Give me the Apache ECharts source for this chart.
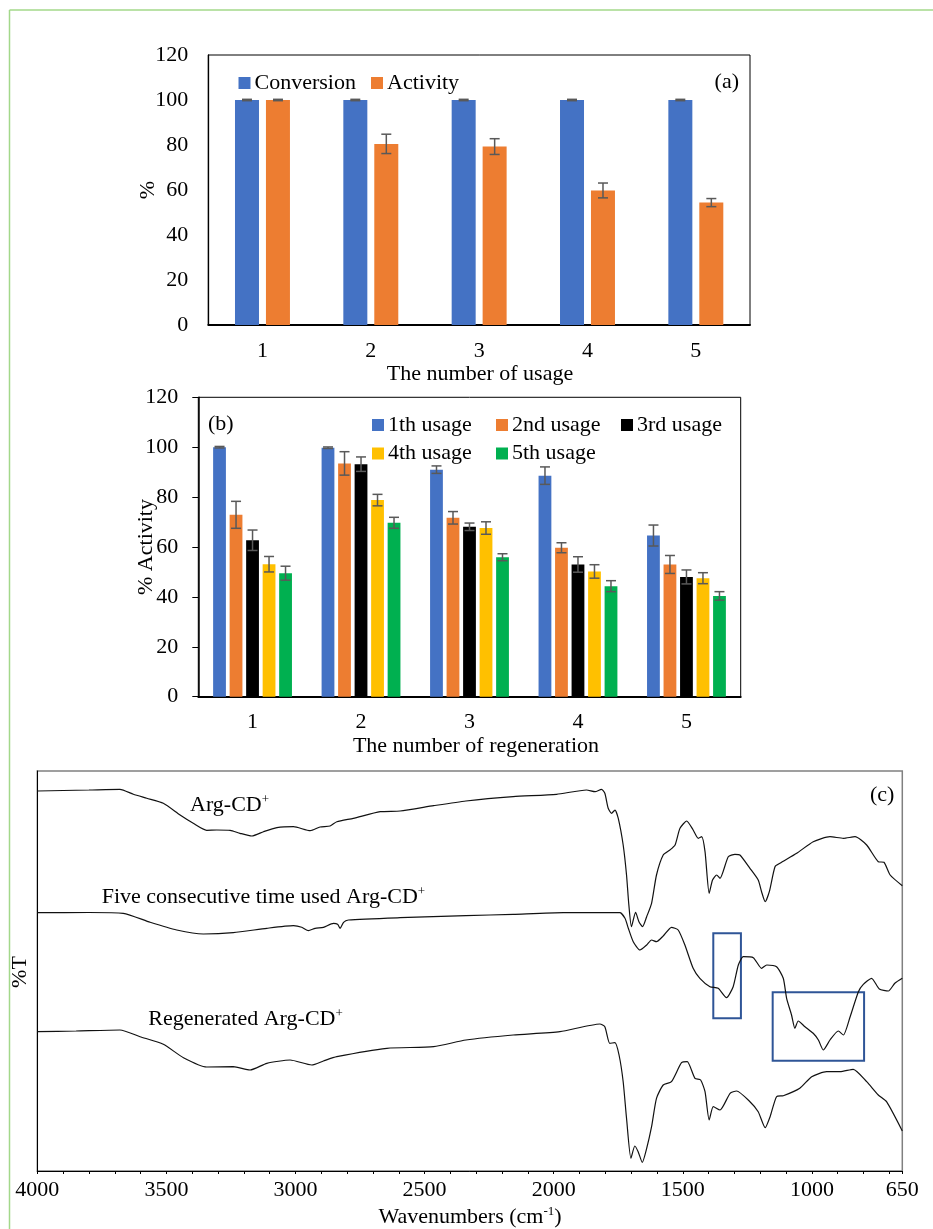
<!DOCTYPE html>
<html>
<head>
<meta charset="utf-8">
<script src="https://cdn.jsdelivr.net/npm/echarts@6/dist/echarts.min.js"></script>
<style>
html,body{margin:0;padding:0;background:#fff;}
#chart{width:933px;height:1229px;}
</style>
</head>
<body>
<div id="chart"></div>
<script>
// ---------- Panel (a) ----------
const usageCats = ['1', '2', '3', '4', '5'];
const conversion = [100, 100, 100, 100, 100];
const conversionErr = [0.3, 0.3, 0.3, 0.3, 0.3];
const activity = [100, 80.5, 79.3, 59.8, 54.4];
const activityErr = [0.3, 4.3, 3.5, 3.3, 1.8];

// ---------- Panel (b) ----------
const regenCats = ['1', '2', '3', '4', '5'];
const usage1 = [100, 99.8, 91.0, 88.6, 64.6];
const usage1Err = [0.3, 0.3, 1.5, 3.5, 4.2];
const usage2 = [72.9, 93.5, 71.7, 59.7, 53.0];
const usage2Err = [5.4, 4.7, 2.5, 2.0, 3.6];
const usage3 = [62.7, 93.2, 68.1, 53.0, 48.0];
const usage3Err = [4.1, 2.9, 1.5, 3.1, 2.8];
const usage4 = [53.1, 78.8, 67.6, 50.2, 47.5];
const usage4Err = [3.1, 2.3, 2.5, 2.7, 2.2];
const usage5 = [49.5, 69.7, 55.9, 44.3, 40.4];
const usage5Err = [2.8, 2.2, 1.4, 2.2, 1.7];

// ---------- Panel (c) : FTIR spectra [wavenumber, %T (arbitrary offset units)] ----------
const argCD = [[4000,380],[3900,380.5],[3800,381],[3680,381.7],[3628,376.7],[3576,372.7],[3512,367.7],[3447,356],[3396,347.7],[3344,340.7],[3305,341],[3253,340.7],[3215,337.7],[3169,335],[3124,339.3],[3072,343.3],[3008,344.3],[2943,340.3],[2905,344],[2866,345],[2840,349.3],[2776,352.7],[2672,359.3],[2595,360],[2465,365.3],[2340,370],[2157,374.3],[1989,376.7],[1873,381],[1840,379.3],[1815,381.7],[1802,377.7],[1789,362.7],[1776,357.7],[1763,361],[1750,352.7],[1731,326],[1718,296],[1709,266],[1699,244.3],[1683,258.7],[1670,249.3],[1656,244.3],[1640,254.3],[1621,267.7],[1602,296],[1576,316],[1550,321],[1530,326],[1511,342.7],[1485,350],[1460,341],[1440,332.7],[1427,334.3],[1414,319.3],[1398,277.7],[1385,291],[1369,296],[1356,292.7],[1324,314.3],[1298,316.7],[1279,316],[1240,302.7],[1208,291],[1195,279.3],[1181,269.3],[1165,279.3],[1143,304.3],[1124,307.7],[1059,317.7],[995,329.3],[930,334.3],[878,332.7],[833,334.3],[788,326],[743,309.3],[721,308.7],[697,296],[650,285.3]];
const usedArgCD = [[4000,258.3],[3800,258.5],[3667,257.7],[3563,248.7],[3460,241],[3357,237],[3241,238.3],[3111,242.7],[3008,245.3],[2976,243.7],[2950,240.3],[2924,242.7],[2892,243.7],[2853,247.7],[2837,246.7],[2827,242.7],[2814,248.7],[2795,251],[2595,253.3],[2340,255.3],[2157,256.7],[1963,258.3],[1744,258.3],[1724,252.7],[1711,242.7],[1692,229.3],[1666,221],[1640,226],[1621,231],[1602,229.3],[1576,235],[1544,243.7],[1518,241],[1492,226],[1460,202.7],[1434,192.7],[1395,184.3],[1363,182.7],[1331,173.3],[1305,184.3],[1285,206],[1266,214.3],[1227,213.3],[1195,202.7],[1175,206],[1137,204.3],[1111,192.7],[1098,172.7],[1079,156],[1066,142.7],[1053,150],[1027,144.3],[995,137.7],[975,131],[956,121],[930,131],[898,140],[878,136],[852,154.3],[820,179.3],[801,186.7],[769,192.7],[739,182],[704,180],[679,187.7],[650,192.7]];
const regenArgCD = [[4000,139.3],[3850,140],[3680,141],[3602,134.3],[3512,126.7],[3434,113.3],[3344,104],[3241,104.3],[3176,101],[3111,107.7],[3021,111],[2937,106],[2892,110],[2840,114.3],[2646,122.7],[2465,124.3],[2340,131],[2157,136],[1976,139.3],[1821,147],[1802,144.3],[1783,127.7],[1763,128.3],[1747,116],[1731,89.3],[1718,52.7],[1701,12.7],[1686,25],[1673,19.3],[1657,8.7],[1640,22.7],[1621,44.3],[1602,72.7],[1576,86],[1544,89.3],[1505,108.3],[1483,109.3],[1453,92.7],[1431,91],[1414,79.3],[1398,51],[1382,64.3],[1356,61],[1317,77.7],[1292,80],[1240,69.3],[1208,59.3],[1181,43.3],[1162,54.3],[1137,74.3],[1111,75.3],[1047,82.7],[1001,94.3],[943,99.3],[891,99.3],[840,101.7],[788,89.3],[743,76],[711,69.3],[650,40]];
// highlight boxes [wavenumber1, T1, wavenumber2, T2]
const highlightBoxes = [[1382, 237.7, 1275, 152.7], [1152, 178.7, 798, 110.3]];
const wnLabels = [4000, 3500, 3000, 2500, 2000, 1500, 1000, 650];
const wnTicks = [];
for (let w = 700; w <= 4000; w += 100) wnTicks.push(w);
wnTicks.push(650);

const FONT = '"Liberation Serif", "Times New Roman", serif';
const C_BLUE = '#4472C4', C_ORANGE = '#ED7D31', C_BLACK = '#000000', C_YELLOW = '#FFC000', C_GREEN = '#00B050';
const ERR_COLOR = '#595959';

function errSeries(xi, vals, errs, offset, cap) {
  return {
    type: 'custom', xAxisIndex: xi, yAxisIndex: xi, z: 10, silent: true,
    encode: { x: 0, y: 1 },
    data: vals.map((v, i) => [i, v, errs[i]]),
    renderItem: function (params, api) {
      const i = api.value(0), v = api.value(1), e = api.value(2);
      const hi = api.coord([i, v + e]);
      const lo = api.coord([i, v - e]);
      const x = hi[0] + offset;
      const st = { stroke: ERR_COLOR, lineWidth: 1.5 };
      return { type: 'group', children: [
        { type: 'line', shape: { x1: x, y1: hi[1], x2: x, y2: lo[1] }, style: st },
        { type: 'line', shape: { x1: x - cap, y1: hi[1], x2: x + cap, y2: hi[1] }, style: st },
        { type: 'line', shape: { x1: x - cap, y1: lo[1], x2: x + cap, y2: lo[1] }, style: st }
      ]};
    }
  };
}

function barSeries(name, xi, vals, color, width) {
  return { name: name, type: 'bar', xAxisIndex: xi, yAxisIndex: xi, data: vals,
    barWidth: width, barGap: '29%', itemStyle: { color: color } };
}

function legendAt(name, left, top) {
  return { data: [name], left: left, top: top, padding: 0, itemWidth: 12, itemHeight: 12,
    icon: 'rect', selectedMode: false,
    textStyle: { fontFamily: FONT, fontSize: 22, color: '#000', padding: [0, 0, 0, -1] } };
}

function txt(text, x, y, opts) {
  opts = opts || {};
  return { type: 'text', x: x, y: y, rotation: opts.rot || 0, z: 100,
    style: { text: text, fontFamily: FONT, fontSize: opts.size || 22, fill: '#000',
      align: opts.align || 'center', verticalAlign: 'middle',
      rich: { sup: { fontFamily: FONT, fontSize: 13, verticalAlign: 'bottom', padding: [0, 0, 11, 0] } } } };
}

const catLabel = { fontFamily: FONT, fontSize: 22, color: '#000' };
const lineStyleSpec = { color: '#111', width: 1.2 };

const option = {
  animation: false,
  backgroundColor: '#fff',
  grid: [
    { left: 208.3, top: 55, width: 541.7, height: 270, show: true, borderColor: '#000', borderWidth: 1, containLabel: false },
    { left: 198.3, top: 397.3, width: 542.4, height: 299.4, show: true, borderColor: '#000', borderWidth: 1, containLabel: false },
    { left: 37.3, top: 771, width: 865, height: 400, show: true, borderColor: '#808080', borderWidth: 1.5, containLabel: false }
  ],
  legend: [
    legendAt('Conversion', 238.5, 72),
    legendAt('Activity', 371, 72),
    legendAt('1th usage', 372, 414),
    legendAt('2nd usage', 496, 414),
    legendAt('3rd usage', 621, 414),
    legendAt('4th usage', 372, 442.5),
    legendAt('5th usage', 496, 442.5)
  ],
  xAxis: [
    { gridIndex: 0, type: 'category', data: usageCats,
      axisLine: { lineStyle: { color: '#000', width: 2 } }, axisTick: { show: false },
      axisLabel: Object.assign({ margin: 15 }, catLabel) },
    { gridIndex: 1, type: 'category', data: regenCats,
      axisLine: { lineStyle: { color: '#000', width: 2 } }, axisTick: { show: false },
      axisLabel: Object.assign({ margin: 15 }, catLabel) },
    { gridIndex: 2, type: 'value', min: 650, max: 4000, inverse: true,
      axisLine: { lineStyle: { color: '#000', width: 1 } },
      axisTick: { show: true, length: 3, customValues: wnTicks, lineStyle: { color: '#000' } },
      axisLabel: Object.assign({ margin: 8, customValues: wnLabels, showMinLabel: true, showMaxLabel: true,
        formatter: function (v) { return String(v); } }, catLabel),
      splitLine: { show: false } }
  ],
  yAxis: [
    { gridIndex: 0, type: 'value', min: 0, max: 120, interval: 20,
      axisLine: { show: true, lineStyle: { color: '#000', width: 1.3 } }, axisTick: { show: false },
      axisLabel: Object.assign({ margin: 20 }, catLabel), splitLine: { show: false } },
    { gridIndex: 1, type: 'value', min: 0, max: 120, interval: 20,
      axisLine: { show: true, lineStyle: { color: '#000', width: 1.5 } },
      axisTick: { show: true, length: 6, lineStyle: { color: '#000', width: 1 } },
      axisLabel: Object.assign({ margin: 20 }, catLabel), splitLine: { show: false } },
    { gridIndex: 2, type: 'value', min: 0, max: 400,
      axisLine: { show: true, lineStyle: { color: '#000', width: 1 } }, axisTick: { show: false },
      axisLabel: { show: false }, splitLine: { show: false } }
  ],
  series: [
    barSeries('Conversion', 0, conversion, C_BLUE, 24),
    barSeries('Activity', 0, activity, C_ORANGE, 24),
    errSeries(0, conversion, conversionErr, -15.5, 5),
    errSeries(0, activity, activityErr, 15.5, 5),

    barSeries('1th usage', 1, usage1, C_BLUE, 12.8),
    barSeries('2nd usage', 1, usage2, C_ORANGE, 12.8),
    barSeries('3rd usage', 1, usage3, C_BLACK, 12.8),
    barSeries('4th usage', 1, usage4, C_YELLOW, 12.8),
    barSeries('5th usage', 1, usage5, C_GREEN, 12.8),
    errSeries(1, usage1, usage1Err, -33, 5),
    errSeries(1, usage2, usage2Err, -16.5, 5),
    errSeries(1, usage3, usage3Err, 0, 5),
    errSeries(1, usage4, usage4Err, 16.5, 5),
    errSeries(1, usage5, usage5Err, 33, 5),

    { name: 'Arg-CD+', type: 'line', xAxisIndex: 2, yAxisIndex: 2, data: argCD, showSymbol: false,
      smooth: 0.2, lineStyle: lineStyleSpec, silent: true },
    { name: 'Five consecutive time used Arg-CD+', type: 'line', xAxisIndex: 2, yAxisIndex: 2, data: usedArgCD, showSymbol: false,
      smooth: 0.2, lineStyle: lineStyleSpec, silent: true,
      markArea: { silent: true, itemStyle: { color: 'rgba(0,0,0,0)', borderColor: '#2F5597', borderWidth: 2 },
        data: highlightBoxes.map(b => [{ coord: [b[0], b[1]] }, { coord: [b[2], b[3]] }]) } },
    { name: 'Regenerated Arg-CD+', type: 'line', xAxisIndex: 2, yAxisIndex: 2, data: regenArgCD, showSymbol: false,
      smooth: 0.2, lineStyle: lineStyleSpec, silent: true }
  ],
  graphic: [
    { type: 'line', shape: { x1: 9.5, y1: 10, x2: 9.5, y2: 1229 }, style: { stroke: '#A3D88A', lineWidth: 1.5 } },
    { type: 'line', shape: { x1: 9.5, y1: 10, x2: 933, y2: 10 }, style: { stroke: '#A3D88A', lineWidth: 1.5 } },
    txt('(a)', 714.6, 82, { align: 'left' }),
    txt('%', 148, 190, { rot: Math.PI / 2 }),
    txt('The number of usage', 480, 374),
    txt('(b)', 208, 424, { align: 'left' }),
    txt('% Activity', 146, 547, { rot: Math.PI / 2 }),
    txt('The number of regeneration', 476, 746),
    txt('(c)', 870, 795.5, { align: 'left' }),
    txt('Arg-CD{sup|+}', 190, 805, { align: 'left' }),
    txt('Five consecutive time used Arg-CD{sup|+}', 101.7, 897, { align: 'left' }),
    txt('Regenerated Arg-CD{sup|+}', 148.3, 1019, { align: 'left' }),
    txt('%T', 20, 972, { rot: Math.PI / 2 }),
    txt('Wavenumbers (cm{sup|-1})', 470, 1217)
  ]
};

const chart = echarts.init(document.getElementById('chart'), null, { renderer: 'canvas' });
chart.setOption(option);
</script>
</body>
</html>
